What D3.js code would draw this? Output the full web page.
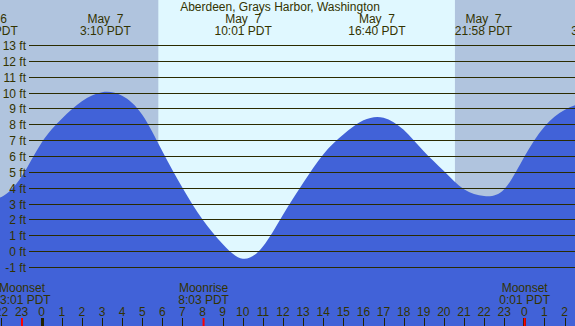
<!DOCTYPE html>
<html>
<head>
<meta charset="utf-8">
<script src="https://cdn.jsdelivr.net/npm/d3@7"></script>
<style>
  body { margin: 0; }
  svg { display: block; }
  text { font-family: "Liberation Sans", Arial, sans-serif; font-size: 12px; fill: #333300; white-space: pre; }
</style>
</head>
<body>
<script>
// tide heights (ft), hours from midnight May 7
var tideHours = d3.range(-3, 29);
var tideFeet  = [3.25, 3.42, 4.7, 6.85, 8.35, 9.45, 10.02, 9.8, 8.6, 6.3, 4.0, 2.0, 0.45, -0.48,
                 0.3, 2.3, 4.3, 6.1, 7.35, 8.25, 8.42, 7.65, 6.3, 5.05, 3.9, 3.47, 3.9, 5.95,
                 7.85, 8.9, 9.35, 9.45];

// high / low tide labels
var extremeHours = [-2.62, 3.17, 10.02, 16.67, 21.97, 27.6];
var extremeDates = ["May  6", "May  7", "May  7", "May  7", "May  7", "May  8"];
var extremeTimes = ["21:23 PDT", "3:10 PDT", "10:01 PDT", "16:40 PDT", "21:58 PDT", "3:36 PDT"];

// sun
var sunriseHour = 5.8, sunsetHour = 20.55;

// moon events
var moonHours = [-0.98, 8.05, 24.02];
var moonNames = ["Moonset", "Moonrise", "Moonset"];
var moonTimes = ["23:01 PDT", "8:03 PDT", "0:01 PDT"];

// hour ticks along the bottom
var tickHours = d3.range(-2, 27);
var feetTicks = d3.range(-1, 14);

var width = 575, height = 326;

var x = d3.scaleLinear().domain([0, 24]).range([41.7, 524.3]);
var y = d3.scaleLinear().domain([-1, 13]).range([267, 45]);

var svg = d3.select("body").append("svg")
    .attr("width", width)
    .attr("height", height);

// night / day background
svg.append("rect")
    .attr("width", width).attr("height", height)
    .attr("fill", "#b0c4de");
svg.append("rect")
    .attr("x", x(sunriseHour)).attr("y", 0)
    .attr("width", x(sunsetHour) - x(sunriseHour))
    .attr("height", height)
    .attr("fill", "#e0f8ff");

// water
var area = d3.area()
    .x(function(d, i) { return x(tideHours[i]); })
    .y0(height)
    .y1(function(d) { return y(d); })
    .curve(d3.curveNatural);

svg.append("path")
    .datum(tideFeet)
    .attr("fill", "#4162d8")
    .attr("d", area);

// feet grid lines
svg.selectAll(".grid")
    .data(feetTicks)
  .enter().append("line")
    .attr("x1", 29).attr("x2", width)
    .attr("y1", function(d) { return Math.round(y(d)) + 0.5; })
    .attr("y2", function(d) { return Math.round(y(d)) + 0.5; })
    .attr("stroke", "#2b2b00")
    .attr("stroke-width", 1);

svg.selectAll(".ylab")
    .data(feetTicks)
  .enter().append("text")
    .attr("x", 26)
    .attr("y", function(d) { return Math.round(y(d)) + 4.5; })
    .attr("text-anchor", "end")
    .text(function(d) { return d + " ft"; });

// title
svg.append("text")
    .attr("x", 280).attr("y", 11)
    .attr("text-anchor", "middle")
    .text("Aberdeen, Grays Harbor, Washington");

// high / low labels
extremeHours.forEach(function(h, i) {
  svg.append("text")
      .attr("x", x(h)).attr("y", 23.3)
      .attr("text-anchor", "middle")
      .text(extremeDates[i]);
  svg.append("text")
      .attr("x", x(h)).attr("y", 35)
      .attr("text-anchor", "middle")
      .text(extremeTimes[i]);
});

// hour ticks
svg.selectAll(".tick")
    .data(tickHours)
  .enter().append("line")
    .attr("x1", function(d) { return Math.round(x(d)) + 0.5; })
    .attr("x2", function(d) { return Math.round(x(d)) + 0.5; })
    .attr("y1", 318).attr("y2", height)
    .attr("stroke", "#222200")
    .attr("stroke-width", function(d) { return d % 24 === 0 ? 3 : 1; });

svg.selectAll(".hlab")
    .data(tickHours)
  .enter().append("text")
    .attr("x", function(d) { return x(d); })
    .attr("y", 316)
    .attr("text-anchor", "middle")
    .text(function(d) { return (d + 24) % 24; });

// moon events
moonHours.forEach(function(h, i) {
  svg.append("line")
      .attr("x1", x(h)).attr("x2", x(h))
      .attr("y1", 318).attr("y2", height)
      .attr("stroke", "#ff0000")
      .attr("stroke-width", 2);
  svg.append("text")
      .attr("x", x(h)).attr("y", 291.5)
      .attr("text-anchor", "middle")
      .text(moonNames[i]);
  svg.append("text")
      .attr("x", x(h)).attr("y", 303.5)
      .attr("text-anchor", "middle")
      .text(moonTimes[i]);
});
</script>
</body>
</html>
